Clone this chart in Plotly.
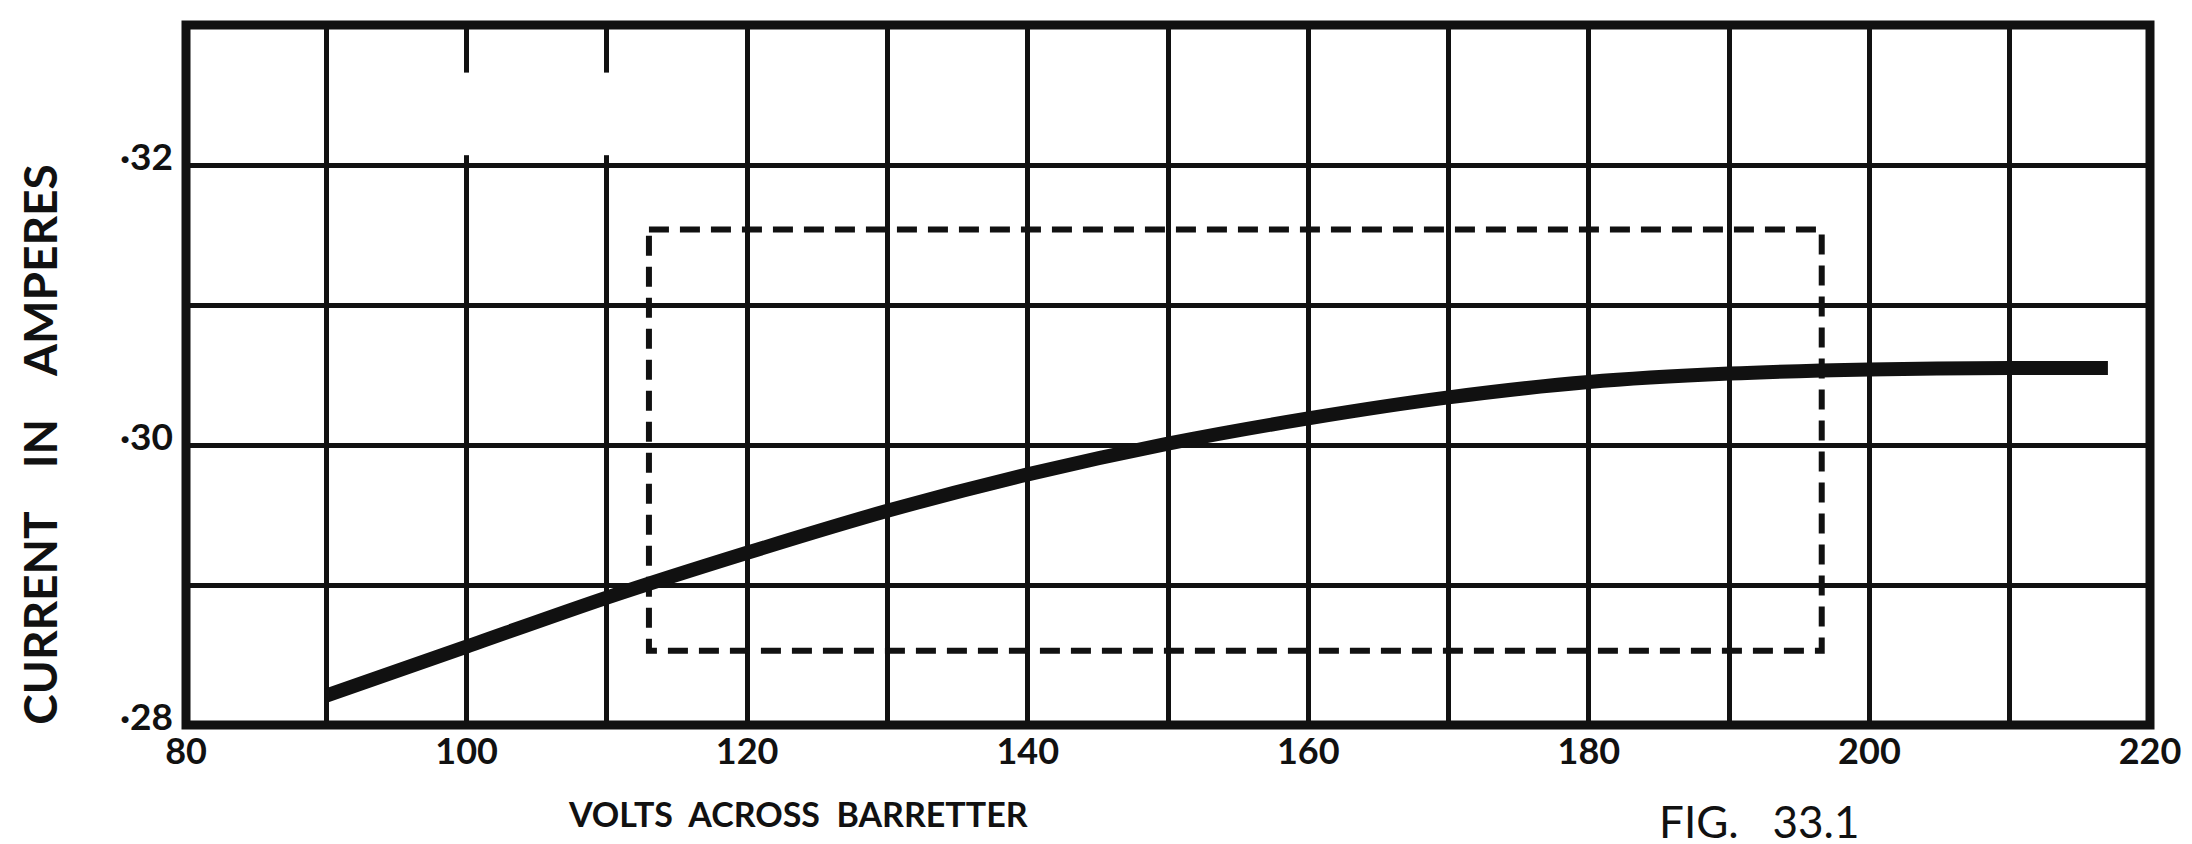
import plotly.graph_objects as go

# ---- data ----
volts = [90, 100, 110, 120, 130, 140, 150, 160, 170, 180, 190, 200, 210, 217]
current = [0.2821, 0.2856, 0.2891, 0.2923, 0.2953, 0.2979, 0.3001, 0.3019,
           0.3034, 0.3045, 0.3051, 0.3054, 0.3055, 0.3055]

box_volts = [113.0, 196.6]
box_current = [0.2853, 0.3154]

x_ticks = [80, 90, 100, 110, 120, 130, 140, 150, 160, 170, 180, 190, 200, 210, 220]
x_labels = ["80", "", "100", "", "120", "", "140", "", "160", "", "180", "", "200", "", "220"]
y_ticks = [0.28, 0.29, 0.30, 0.31, 0.32, 0.33]
y_labels = ["\u00b728", "", "\u00b730", "", "\u00b732", ""]

gap_cols = [100, 110]          # grid columns broken in top row (print defect)
gap_span = [0.3207, 0.3266]

FONT = "Lato"
INK = "#111111"
SP = "\u00a0"

fig = go.Figure()

# dashed rectangle
bx = [box_volts[0], box_volts[1], box_volts[1], box_volts[0], box_volts[0]]
by = [box_current[1], box_current[1], box_current[0], box_current[0], box_current[1]]
fig.add_trace(go.Scatter(x=bx, y=by, mode="lines",
                         line=dict(color=INK, width=6, dash="20px,11px"),
                         hoverinfo="skip", showlegend=False))

# characteristic curve
fig.add_trace(go.Scatter(x=volts, y=current, mode="lines",
                         line=dict(color=INK, width=14, shape="spline", smoothing=0.8),
                         showlegend=False))

shapes = []
for c in gap_cols:
    shapes.append(dict(type="line", xref="x", yref="y", x0=c, x1=c,
                       y0=gap_span[0], y1=gap_span[1],
                       line=dict(color="white", width=9), layer="above"))
# frame
shapes.append(dict(type="rect", xref="paper", yref="paper", x0=0, x1=1, y0=0, y1=1,
                   line=dict(color=INK, width=9), layer="above"))

fig.update_layout(
    width=2192, height=844,
    margin=dict(l=178, r=50, t=17, b=127),
    paper_bgcolor="white", plot_bgcolor="white",
    shapes=shapes,
    xaxis=dict(range=[80, 220], tickmode="array", tickvals=x_ticks, ticktext=x_labels,
               showgrid=True, gridcolor=INK, gridwidth=5, zeroline=False,
               showline=False, ticks="", ticklabelstandoff=2,
               tickfont=dict(family=FONT, size=36, color=INK, weight="bold")),
    yaxis=dict(range=[0.28, 0.33], tickmode="array", tickvals=y_ticks, ticktext=y_labels,
               showgrid=True, gridcolor=INK, gridwidth=5, zeroline=False,
               showline=False, ticks="", ticklabelstandoff=12, ticklabelshift=-8,
               tickfont=dict(family=FONT, size=37, color=INK, weight="bold")),
    annotations=[
        dict(text="CURRENT" + SP * 4 + "IN" + SP * 4 + "AMPERES", textangle=-90,
             xref="paper", yref="paper", x=-0.075, y=0.40, showarrow=False,
             xanchor="center", yanchor="middle",
             font=dict(family=FONT, size=46, color=INK, weight="bold")),
        dict(text="VOLTS" + SP * 2 + "ACROSS" + SP * 2 + "BARRETTER",
             xref="paper", yref="paper", x=0.3116, y=-0.126, showarrow=False,
             xanchor="center", yanchor="middle",
             font=dict(family=FONT, size=34, color=INK, weight="bold")),
        dict(text="FIG." + SP * 3 + "33.1",
             xref="paper", yref="paper", x=0.801, y=-0.137, showarrow=False,
             xanchor="center", yanchor="middle",
             font=dict(family=FONT, size=44, color=INK)),
    ],
)

fig.write_html("out.html")
